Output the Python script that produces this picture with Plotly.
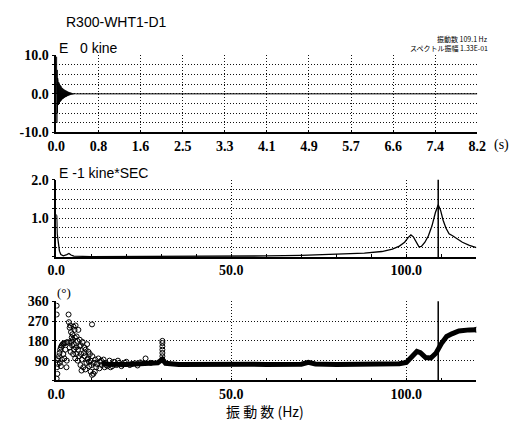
import plotly.graph_objects as go

W, H = 524, 428

# ---------------- Panel 1: time history (kine) ----------------
wave_dt = 0.005
wave_vals = [0, 9.6, -7.5, 6.2, -5.0, 4.1, -3.6, 3.2, -2.9, 3.0, -2.7, 2.8, -2.6, 2.4, -2.3,
             2.2, -2.0, 2.1, -1.9, 1.8, -1.7, 1.6, -1.55, 1.5, -1.4, 1.35, -1.3, 1.25, -1.2,
             1.15, -1.1, 1.05, -1.0, 0.95, -0.92, 0.9, -0.85, 0.82, -0.8, 0.76, -0.72, 0.68,
             -0.64, 0.6, -0.57, 0.54, -0.5, 0.47, -0.45, 0.42, -0.4, 0.37, -0.35, 0.33, -0.31,
             0.29, -0.27, 0.25, -0.23, 0.21, -0.2, 0.18, -0.17, 0.16, -0.15, 0.14, -0.13, 0.12,
             -0.11, 0.1, -0.09, 0.08, -0.07, 0.06, -0.05, 0.05, -0.04, 0.03, -0.02, 0.01, 0]
wave_tail_t = [0.405, 8.192]
wave_tail_v = [0.0, 0.0]
time_ticks = [0, 0.8192, 1.6384, 2.4576, 3.2768, 4.096, 4.9152, 5.7344, 6.5536, 7.3728, 8.192]
time_labels = ["0.0", "0.8", "1.6", "2.5", "3.3", "4.1", "4.9", "5.7", "6.6", "7.4", "8.2"]

# ---------------- Panel 2: Fourier spectrum (E-1 kine*sec) ----------------
spec_f = [0, 0.12, 0.25, 0.4, 0.6, 0.9, 1.3, 2.0, 3.0, 3.6, 4.2, 5, 10, 20, 30, 40, 50, 60, 70,
          80, 88, 93, 96, 98, 99.5, 100.5, 101.3, 102, 102.8, 103.6, 104.3, 105.3, 106.3,
          107.3, 108.3, 109.1, 109.8, 110.5, 111.3, 112.2, 113.2, 114.5, 116, 118, 120]
spec_a = [1.1, 1.05, 0.6, 0.45, 0.3, 0.15, 0.06, 0.03, 0.06, 0.09, 0.05, 0.02, 0.01, 0.01,
          0.015, 0.015, 0.02, 0.025, 0.04, 0.07, 0.1, 0.14, 0.2, 0.28, 0.38, 0.5, 0.57, 0.52,
          0.38, 0.26, 0.27, 0.38, 0.55, 0.8, 1.15, 1.35, 1.2, 0.95, 0.75, 0.6, 0.55, 0.47,
          0.38, 0.3, 0.24]
peak_freq = 109.1

# ---------------- Panel 3: phase (deg) ----------------
phase_band_f = [13, 15, 20, 25, 29, 30.3, 31.2, 35, 40, 45, 50, 55, 60, 65, 70, 72, 74, 80,
                90, 98, 100, 101.5, 103, 104, 105.5, 107, 108.5, 110, 111.5, 113, 115, 118, 120]
phase_band_v = [78, 74, 73, 76, 80, 96, 78, 73, 74, 75, 77, 74, 72, 72, 74, 82, 75, 73, 74,
                76, 82, 105, 132, 126, 104, 102, 125, 168, 200, 212, 225, 230, 231]

phase_pts_f = [0.1, 0.1, 0.2, 0.2, 0.3, 0.1, 0.4, 0.5,
               0.7, 0.9, 1.1, 1.3, 1.5, 1.8, 2.1, 2.4, 2.8, 3.2,
               1.0, 1.3, 1.6, 2.0, 2.3, 2.6, 2.9, 3.0,
               3.5, 3.6, 3.8, 4.0, 4.2, 4.4, 4.6, 4.9, 5.2, 5.5, 5.8, 6.0, 6.3, 6.7, 7.0, 7.5,
               8.0, 8.4, 8.8, 9.2, 9.6, 10.2,
               3.8, 4.1, 4.5, 4.8, 5.1, 5.4, 5.7, 6.1, 6.5, 6.9, 7.3, 7.7, 8.1, 8.6, 9.0, 9.4,
               9.8, 10.3, 10.7, 11.1, 11.6, 12.0, 12.5, 13.0, 13.5, 14.0, 14.6, 15.2, 15.8,
               16.5, 17.2, 18.0, 19.0, 20.0, 21.0, 22.5, 24.0, 25.5, 27.0,
               9.8, 10.2, 10.6, 11.0, 7.2, 8.3, 12.3, 13.8, 15.5,
               4.3, 4.7, 5.0, 5.3, 5.6, 6.2, 6.6, 7.1, 7.9, 8.9, 9.3, 10.0, 11.4, 12.8, 14.3,
               16.0, 17.6, 18.6, 19.6, 21.6, 23.2,
               30.3, 30.3, 30.3, 30.3, 30.3, 30.3, 30.3, 120]
phase_pts_v = [340, 300, 92, 60, 30, 8, 75, 100,
               110, 125, 140, 150, 158, 165, 168, 170, 172, 175,
               80, 65, 95, 120, 100, 140, 60, 90,
               300, 265, 240, 250, 220, 195, 210, 245, 230, 250, 200, 180, 230, 185, 160, 175,
               150, 140, 165, 130, 120, 255,
               150, 130, 160, 120, 140, 100, 120, 90, 110, 70, 95, 60, 110, 80, 100, 65,
               90, 110, 80, 95, 75, 100, 85, 70, 95, 80, 65, 90, 75,
               85, 70, 80, 72, 85, 70, 78, 82, 100, 80,
               40, 25, 30, 40, 45, 50, 55, 60, 60,
               175, 185, 165, 195, 150, 140, 155, 120, 125, 95, 85, 70, 60, 90, 70,
               65, 90, 65, 80, 75, 68,
               95, 110, 125, 140, 155, 170, 180, 231]

# ---------------- figure ----------------
serif = "Liberation Serif"
sans = "Liberation Sans"
cjk = "Noto Sans CJK JP"

wave_t = [i * wave_dt for i in range(len(wave_vals))]

fig = go.Figure()
fig.add_trace(go.Scatter(x=wave_t + wave_tail_t, y=wave_vals + wave_tail_v, mode="lines",
                         line=dict(color="black", width=1), xaxis="x", yaxis="y"))
fig.add_trace(go.Scatter(x=spec_f, y=spec_a, mode="lines",
                         line=dict(color="black", width=1.3), xaxis="x2", yaxis="y2"))
fig.add_trace(go.Scatter(x=phase_band_f, y=phase_band_v, mode="lines",
                         line=dict(color="black", width=5), xaxis="x3", yaxis="y3"))
fig.add_trace(go.Scatter(x=phase_pts_f, y=phase_pts_v, mode="markers",
                         marker=dict(symbol="circle-open", size=5, color="black",
                                     line=dict(width=1, color="black")),
                         xaxis="x3", yaxis="y3"))

x0p, x1p = 49 / W, 485 / W
x1s = 484 / W


def dom(top_px, bot_px):
    return [1 - bot_px / H, 1 - top_px / H]


tickfont = dict(family=serif, size=14, color="black", weight="bold")
grid = dict(showgrid=True, gridcolor="#111", griddash="1px,2px", gridwidth=1)
common_x = dict(showline=True, linecolor="black", linewidth=1.5, ticks="inside",
                ticklen=3, tickcolor="black", tickfont=tickfont, zeroline=False, **grid)
common_y = dict(showline=True, linecolor="black", linewidth=1.5, ticks="outside",
                ticklen=3, tickcolor="black", tickfont=tickfont, zeroline=False, **grid)

fig.update_layout(
    width=W, height=H, margin=dict(l=0, r=0, t=0, b=0),
    paper_bgcolor="white", plot_bgcolor="white", showlegend=False,
    xaxis=dict(common_x, domain=[x0p, x1p], range=[0, 8.192], anchor="y",
               tickvals=time_ticks, ticktext=time_labels),
    yaxis=dict(common_y, domain=dom(50, 130), range=[-10, 10], anchor="x",
               tickvals=[-10, -7.5, -5, -2.5, 0, 2.5, 5, 7.5, 10],
               ticktext=["-10.0", "", "", "", "0.0", "", "", "", "10.0"]),
    xaxis2=dict(common_x, domain=[x0p, x1s], range=[0, 120], anchor="y2",
                tickvals=[0, 50, 100], ticktext=["0.0", "50.0", "100.0"],
                minor=dict(dtick=10, ticks="inside", ticklen=3, tickcolor="black", showgrid=False)),
    yaxis2=dict(common_y, domain=dom(179, 259), range=[0, 2], anchor="x2",
                tickvals=[0, 0.25, 0.5, 0.75, 1, 1.25, 1.5, 1.75, 2],
                ticktext=["", "", "", "", "1.0", "", "", "", "2.0"]),
    xaxis3=dict(common_x, domain=[x0p, x1s], range=[0, 120], anchor="y3",
                tickvals=[0, 50, 100], ticktext=["0.0", "50.0", "100.0"],
                minor=dict(dtick=10, ticks="inside", ticklen=3, tickcolor="black", showgrid=False)),
    yaxis3=dict(common_y, domain=dom(305, 387), range=[0, 360], anchor="x3",
                tickvals=[0, 90, 180, 270, 360],
                ticktext=["", "90", "180", "270", "360"]),
)

for xr, yr in (("x2", "y2 domain"), ("x3", "y3 domain")):
    fig.add_shape(type="line", xref=xr, yref=yr, x0=peak_freq, x1=peak_freq, y0=0, y1=1,
                  line=dict(color="black", width=1.5))


def ann(text, x, y, size, family, xanchor="left"):
    fig.add_annotation(text=text, x=x / W, y=1 - y / H, xref="paper", yref="paper",
                       showarrow=False, xanchor=xanchor, yanchor="middle",
                       font=dict(family=family, size=size, color="black"))


ann("R300-WHT1-D1", 57, 16, 14, sans)
ann("E   0 kine", 50, 42, 14, sans)
ann("E -1 kine*SEC", 50, 172, 14, sans)
ann("(°)", 48, 296, 13, serif)
ann("(s)", 500, 143, 14, serif)
ann("振動数 109.1 Hz", 498, 33, 7, cjk, xanchor="right")
ann("スペクトル振幅 1.33E-01", 498, 43, 7, cjk, xanchor="right")
ann("振 動 数 (Hz)", 265, 419, 14, cjk, xanchor="center")

fig.write_html("out.html")
